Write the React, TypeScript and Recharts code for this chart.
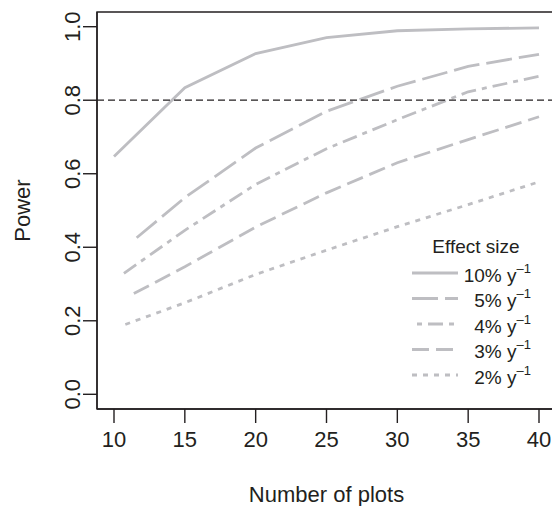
import React from "react";
import {
  LineChart,
  Line,
  XAxis,
  YAxis,
  ReferenceLine,
  ReferenceArea,
  Legend,
  Label,
} from "recharts";

const FONT = '"Liberation Sans", Arial, Helvetica, sans-serif';
const INK = "#231f20";
const GREY = "#bebec2";

// effect sizes shown in the legend (per year)
const effectLabels = ["10%", "5%", "4%", "3%", "2%"];

const xTicks = [10, 15, 20, 25, 30, 35, 40];
const yTicks = [0, 0.2, 0.4, 0.6, 0.8, 1.0];
const targetPower = 0.8;

// number of plots / power, read per curve
const plots10 = [10, 15, 20, 25, 30, 35, 40];
const power10 = [0.647, 0.834, 0.927, 0.97, 0.989, 0.994, 0.997];

const plots5 = [11.6, 15, 20, 25, 30, 35, 40];
const power5 = [0.426, 0.535, 0.67, 0.77, 0.838, 0.892, 0.925];

const plots4 = [10.7, 15, 20, 25, 30, 35, 40];
const power4 = [0.329, 0.446, 0.571, 0.668, 0.747, 0.823, 0.865];

const plots3 = [11.4, 15, 20, 25, 30, 35, 40];
const power3 = [0.274, 0.347, 0.455, 0.548, 0.63, 0.693, 0.755];

const plots2 = [10.8, 15, 20, 25, 30, 35, 40];
const power2 = [0.19, 0.249, 0.326, 0.392, 0.456, 0.516, 0.578];

const dashes = [undefined, "26 7", "15 6 5 6", "17 7", "5 6"];
// shift of the pattern in the legend swatches so they look like R's keys
const legendOffsets = [0, 0, 16, 0, 0];

const allPlots = [plots10, plots5, plots4, plots3, plots2];
const allPower = [power10, power5, power4, power3, power2];

const series = effectLabels.map((label, i) => ({
  label,
  dash: dashes[i],
  offset: legendOffsets[i],
  data: allPlots[i].map((n, j) => ({ n, p: allPower[i][j] })),
}));

// R-style 4% padding around the data range
const xDomain = [8.8, 41.2];
const yDomain = [-0.04, 1.04];

const XTick = ({ x, y, payload }: any) => (
  <text
    x={x}
    y={y + 22}
    textAnchor="middle"
    fontSize={22}
    fontFamily={FONT}
    fill={INK}
  >
    {payload.value}
  </text>
);

const YTick = ({ x, y, payload }: any) => (
  <text
    x={x - 1}
    y={y}
    transform={`rotate(-90 ${x - 1} ${y})`}
    textAnchor="middle"
    fontSize={22}
    fontFamily={FONT}
    fill={INK}
  >
    {Number(payload.value).toFixed(1)}
  </text>
);

const LegendBox = () => (
  <svg width={150} height={160} style={{ display: "block", overflow: "visible" }}>
    <text x={76} y={23} textAnchor="middle" fontSize={19} fontFamily={FONT} fill={INK}>
      Effect size
    </text>
    {series.map((s, i) => {
      const cy = 43 + i * 25.5;
      return (
        <g key={s.label}>
          <line
            x1={12}
            x2={58}
            y1={cy}
            y2={cy}
            stroke={GREY}
            strokeWidth={2.8}
            strokeDasharray={s.dash}
            strokeDashoffset={s.offset}
          />
          <text
            x={131}
            y={cy + 8.5}
            textAnchor="end"
            fontSize={19}
            fontFamily={FONT}
            fill={INK}
          >
            {s.label} y
            <tspan dy={-9} fontSize={13}>
              –1
            </tspan>
          </text>
        </g>
      );
    })}
  </svg>
);

export default function App() {
  return (
    <div
      style={{
        position: "absolute",
        left: 0,
        top: 0,
        width: 552,
        height: 506,
        overflow: "hidden",
        background: "#fff",
      }}
    >
      <LineChart
        width={560}
        height={506}
        margin={{ top: 12, right: 4, bottom: 0, left: 0 }}
      >
        <XAxis
          type="number"
          dataKey="n"
          domain={xDomain}
          ticks={xTicks}
          allowDataOverflow
          height={97}
          tickSize={14}
          tick={<XTick />}
          tickLine={{ stroke: INK, strokeWidth: 1.4 }}
          axisLine={{ stroke: INK, strokeWidth: 1.4 }}
        >
          <Label
            content={({ viewBox }: any) => (
              <text
                x={viewBox.x + viewBox.width / 2}
                y={viewBox.y + viewBox.height - 4}
                textAnchor="middle"
                fontSize={22}
                fontFamily={FONT}
                fill={INK}
              >
                Number of plots
              </text>
            )}
          />
        </XAxis>
        <YAxis
          type="number"
          dataKey="p"
          domain={yDomain}
          ticks={yTicks}
          allowDataOverflow
          width={97}
          tickSize={14}
          tick={<YTick />}
          tickLine={{ stroke: INK, strokeWidth: 1.4 }}
          axisLine={{ stroke: INK, strokeWidth: 1.4 }}
        >
          <Label
            content={({ viewBox }: any) => {
              const cx = viewBox.x + 30;
              const cy = viewBox.y + viewBox.height / 2;
              return (
                <text
                  x={cx}
                  y={cy}
                  transform={`rotate(-90 ${cx} ${cy})`}
                  textAnchor="middle"
                  fontSize={22}
                  fontFamily={FONT}
                  fill={INK}
                >
                  Power
                </text>
              );
            }}
          />
        </YAxis>
        <ReferenceArea
          x1={xDomain[0]}
          x2={xDomain[1]}
          y1={yDomain[0]}
          y2={yDomain[1]}
          fill="none"
          stroke={INK}
          strokeWidth={1.4}
          ifOverflow="visible"
        />
        {series.map((s) => (
          <Line
            key={s.label}
            data={s.data}
            dataKey="p"
            name={s.label}
            type="linear"
            stroke={GREY}
            strokeWidth={2.8}
            strokeDasharray={s.dash}
            dot={false}
            activeDot={false}
            isAnimationActive={false}
          />
        ))}
        <ReferenceLine
          y={targetPower}
          stroke={INK}
          strokeWidth={1.3}
          strokeDasharray="7 4"
        />
        <Legend
          layout="horizontal"
          verticalAlign="middle"
          align="center"
          content={() => <LegendBox />}
          wrapperStyle={{ left: 400, top: 230, width: 150, height: 160 }}
        />
      </LineChart>
    </div>
  );
}
